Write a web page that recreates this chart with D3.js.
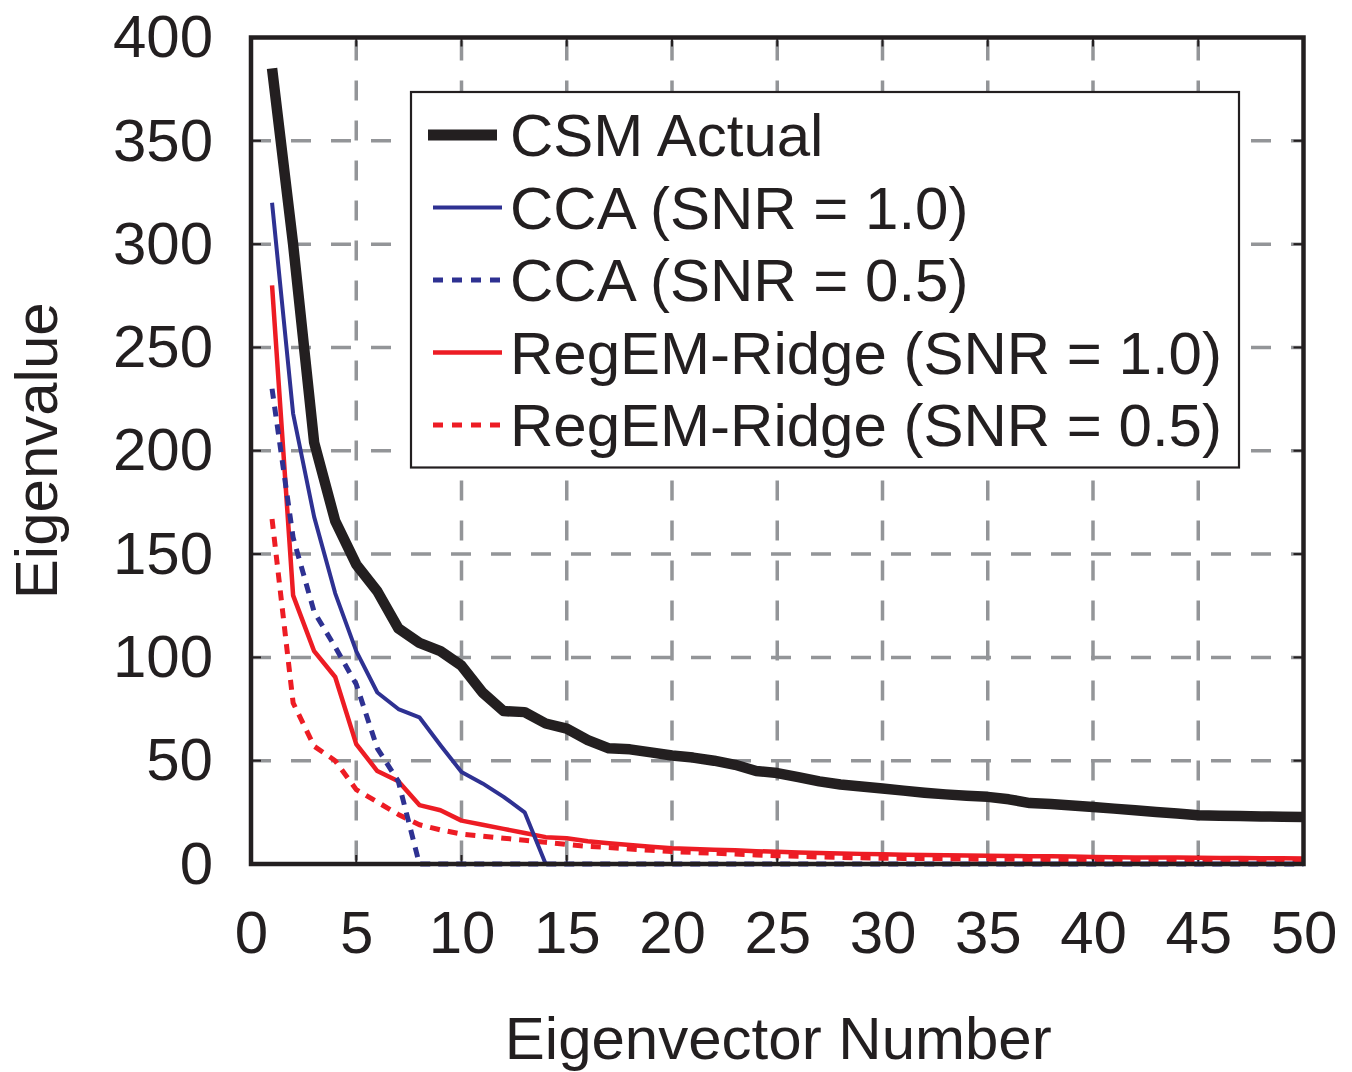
<!DOCTYPE html>
<html>
<head>
<meta charset="utf-8">
<script src="https://cdn.jsdelivr.net/npm/d3@7"></script>
<style>
  html, body { margin: 0; padding: 0; background: #fff; }
  svg text { font-family: "Liberation Sans", Arial, Helvetica, sans-serif; fill: #231f20; }
</style>
</head>
<body>
<svg id="chart" width="1352" height="1072"></svg>
<script>
// eigenvector index 1..50
const eigIndex = d3.range(1, 51);

const csmActual = [385, 300, 204, 166, 145, 132, 114, 107, 103, 96,
  83, 74, 73.5, 68, 65.5, 60, 56, 55.5, 54, 52.5,
  51.5, 50, 48, 45, 44, 42, 40, 38.5, 37.5, 36.5,
  35.5, 34.5, 33.7, 33, 32.5, 31.3, 29.5, 29, 28.3, 27.6,
  26.8, 26, 25.2, 24.4, 23.6, 23.4, 23.2, 23, 22.9, 22.8];

const cca10 = [320, 218, 168, 131, 103, 83, 75, 71, 57.5, 44.5,
  39, 32.5, 25, 0, 0, 0, 0, 0, 0, 0,
  0, 0, 0, 0, 0, 0, 0, 0, 0, 0,
  0, 0, 0, 0, 0, 0, 0, 0, 0, 0,
  0, 0, 0, 0, 0, 0, 0, 0, 0, 0];

const cca05 = [230, 158, 122, 105, 87, 56, 40, 0, 0, 0,
  0, 0, 0, 0, 0, 0, 0, 0, 0, 0,
  0, 0, 0, 0, 0, 0, 0, 0, 0, 0,
  0, 0, 0, 0, 0, 0, 0, 0, 0, 0,
  0, 0, 0, 0, 0, 0, 0, 0, 0, 0];

const ridge10 = [280, 130, 103, 90.5, 58, 45, 40, 28.5, 26, 21,
  19, 17, 15, 13, 12.5, 11, 10, 9.2, 8.3, 7.6,
  7.2, 6.9, 6.6, 6.2, 5.9, 5.6, 5.3, 5.1, 4.9, 4.7,
  4.5, 4.3, 4.2, 4.1, 4.0, 3.9, 3.8, 3.7, 3.6, 3.4,
  3.3, 3.2, 3.2, 3.1, 3.0, 2.9, 2.9, 2.8, 2.8, 2.7];

const ridge05 = [167, 78, 57, 50, 36, 30, 24, 19, 16.5, 14.5,
  13.5, 12.5, 11.5, 10.5, 9.5, 8.5, 8, 7.3, 6.6, 6,
  5.6, 5.2, 4.8, 4.4, 4, 3.7, 3.4, 3.2, 3, 2.8,
  2.7, 2.6, 2.5, 2.4, 2.3, 2.3, 2.2, 2.2, 2.1, 2.1,
  2.0, 2.0, 2.0, 1.9, 1.9, 1.9, 1.8, 1.8, 1.8, 1.8];

const xTicks = d3.range(0, 51, 5);
const yTicks = d3.range(0, 401, 50);

const seriesNames = ['CSM Actual', 'CCA (SNR = 1.0)', 'CCA (SNR = 0.5)',
  'RegEM-Ridge (SNR = 1.0)', 'RegEM-Ridge (SNR = 0.5)'];

const BLACK = '#231f20', BLUE = '#2e3192', RED = '#ed1c24', GRID = '#939598';

// series styles, same order as seriesNames
const styles = [
  { values: csmActual, color: BLACK, width: 10.5, dash: null },
  { values: cca10, color: BLUE, width: 4, dash: null },
  { values: cca05, color: BLUE, width: 5, dash: '10,8' },
  { values: ridge10, color: RED, width: 4.5, dash: null },
  { values: ridge05, color: RED, width: 5, dash: '10,8' },
];

const svg = d3.select('#chart');
const plotL = 251, plotR = 1303.5, plotT = 37.5, plotB = 864;

const x = d3.scaleLinear().domain([0, 50]).range([plotL, plotR]);
const y = d3.scaleLinear().domain([0, 400]).range([plotB, plotT]);

// grid
const grid = svg.append('g');
grid.selectAll('line.vg')
  .data(xTicks.filter(d => d > 0 && d < 50))
  .enter().append('line')
  .attr('x1', d => x(d)).attr('x2', d => x(d))
  .attr('y1', plotT).attr('y2', plotB)
  .attr('stroke', GRID).attr('stroke-width', 3.5)
  .attr('stroke-dasharray', '20,20').attr('stroke-dashoffset', -3);
grid.selectAll('line.hg')
  .data(yTicks.filter(d => d > 0 && d < 400))
  .enter().append('line')
  .attr('x1', plotL).attr('x2', plotR)
  .attr('y1', d => y(d)).attr('y2', d => y(d))
  .attr('stroke', GRID).attr('stroke-width', 3.5)
  .attr('stroke-dasharray', '20,20');

// inward ticks on all four sides
const ticks = svg.append('g').attr('stroke', BLACK).attr('stroke-width', 2);
xTicks.forEach(t => {
  ticks.append('line').attr('x1', x(t)).attr('x2', x(t)).attr('y1', plotB).attr('y2', plotB - 9);
  ticks.append('line').attr('x1', x(t)).attr('x2', x(t)).attr('y1', plotT).attr('y2', plotT + 9);
});
yTicks.forEach(t => {
  ticks.append('line').attr('x1', plotL).attr('x2', plotL + 10).attr('y1', y(t)).attr('y2', y(t));
  ticks.append('line').attr('x1', plotR).attr('x2', plotR - 10).attr('y1', y(t)).attr('y2', y(t));
});

// series lines (red under blue under black)
const line = d3.line()
  .x((d, i) => x(eigIndex[i]))
  .y(d => y(d));

[4, 3, 2, 1, 0].forEach(k => {
  const s = styles[k];
  svg.append('path')
    .datum(s.values)
    .attr('d', line)
    .attr('fill', 'none')
    .attr('stroke', s.color)
    .attr('stroke-width', s.width)
    .attr('stroke-linejoin', 'round')
    .attr('stroke-dasharray', s.dash);
});

// frame
svg.append('rect')
  .attr('x', plotL).attr('y', plotT)
  .attr('width', plotR - plotL).attr('height', plotB - plotT)
  .attr('fill', 'none').attr('stroke', BLACK).attr('stroke-width', 4.5);

// tick labels via d3 axes (lines hidden, only text kept)
const xAxis = svg.append('g')
  .attr('transform', `translate(0,${plotB})`)
  .call(d3.axisBottom(x).tickValues(xTicks).tickSize(0).tickPadding(46));
const yAxis = svg.append('g')
  .attr('transform', `translate(${plotL},0)`)
  .call(d3.axisLeft(y).tickValues(yTicks).tickSize(0).tickPadding(38));
[xAxis, yAxis].forEach(g => {
  g.attr('font-family', null).attr('font-size', null);
  g.select('.domain').remove();
  g.selectAll('text').attr('font-size', 60).attr('fill', BLACK);
});

svg.append('text')
  .attr('x', (plotL + plotR) / 2 + 1).attr('y', 1059)
  .attr('text-anchor', 'middle').attr('font-size', 60)
  .text('Eigenvector Number');

svg.append('text')
  .attr('transform', `translate(57,${(plotT + plotB) / 2}) rotate(-90)`)
  .attr('text-anchor', 'middle').attr('font-size', 60)
  .text('Eigenvalue');

// legend
const legend = svg.append('g');
legend.append('rect')
  .attr('x', 411).attr('y', 92).attr('width', 828).attr('height', 375.5)
  .attr('fill', '#fff').attr('stroke', BLACK).attr('stroke-width', 2.2);

seriesNames.forEach((name, i) => {
  const s = styles[i];
  const ry = 135 + i * 72.5;
  legend.append('line')
    .attr('x1', i === 0 ? 428 : 433).attr('x2', i === 0 ? 497 : 502)
    .attr('y1', ry).attr('y2', ry)
    .attr('stroke', s.color)
    .attr('stroke-width', i === 0 ? 11 : s.width)
    .attr('stroke-dasharray', s.dash ? '10,9' : null);
  legend.append('text')
    .attr('x', 510).attr('y', ry + 21)
    .attr('font-size', 60)
    .text(name);
});
</script>
</body>
</html>
